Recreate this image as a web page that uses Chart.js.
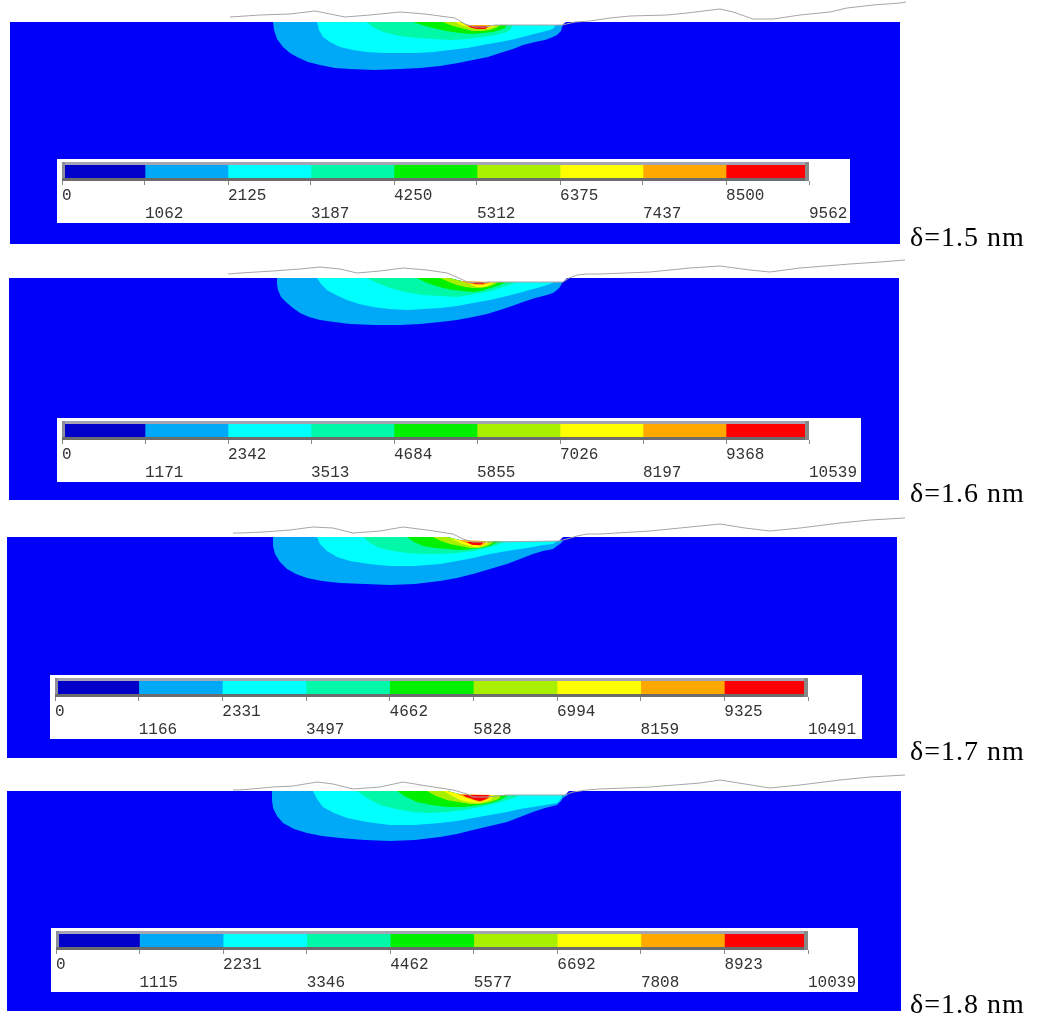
<!DOCTYPE html>
<html>
<head>
<meta charset="utf-8">
<script src="https://cdn.jsdelivr.net/npm/chart.js@4.4.1/dist/chart.umd.min.js"></script>
<style>
  html, body { margin: 0; padding: 0; background: #fff; width: 1040px; height: 1032px; overflow: hidden; }
  #stage { position: relative; width: 1040px; height: 1032px; background: #fff; }
  #stage canvas { position: absolute; }
  .legend-box { position: absolute; background: #fff; }
  .caption { position: absolute; font-family: 'Liberation Serif', 'Times New Roman', serif; font-size: 28px;
             line-height: 1; color: #000; white-space: nowrap; letter-spacing: 1px; }
</style>
</head>
<body>
<div id="stage"></div>
<script>
// ---- stress levels shown on each colour bar (contour band boundaries) ----
const levels15 = [0, 1062, 2125, 3187, 4250, 5312, 6375, 7437, 8500, 9562];
const levels16 = [0, 1171, 2342, 3513, 4684, 5855, 7026, 8197, 9368, 10539];
const levels17 = [0, 1166, 2331, 3497, 4662, 5828, 6994, 8159, 9325, 10491];
const levels18 = [0, 1115, 2231, 3346, 4462, 5577, 6692, 7808, 8923, 10039];

const captions = ['δ=1.5 nm', 'δ=1.6 nm', 'δ=1.7 nm', 'δ=1.8 nm'];

// ---- section outline of the substrate, [x, depth] ----
const domain15 = [[0,0],[450,0],[456,3],[552,3],[556,0],[890,0],[890,222],[0,222]];
const domain16 = [[0,0],[440,0],[456,4],[554,4],[558,0],[890,0],[890,222],[0,222]];
const domain17 = [[0,0],[440,0],[456,4],[552,4],[556,0],[890,0],[890,221],[0,221]];
const domain18 = [[0,0],[440,0],[456,4],[558,4],[562,0],[894,0],[894,220],[0,220]];

// ---- rough surface profile traced above the section, [x, depth] ----
const surface15 = [[220,-5],[250,-7],[280,-8],[305,-11],[320,-8],[335,-5],[360,-7],[390,-10],[415,-8],[445,-4],[455,2],[465,5],[475,5],[485,3],[552,3],[565,0],[580,-1],[600,-4],[620,-6],[657,-7],[677,-9],[710,-13],[723,-10],[743,-3],[763,-3],[790,-7],[820,-10],[837,-14],[863,-17],[890,-19],[896,-20]];
const surface16 = [[219,-4],[231,-5],[264,-7],[291,-9],[311,-11],[331,-9],[348,-5],[371,-7],[394,-10],[418,-8],[438,-5],[450,0],[458,4],[470,5],[480,4],[554,4],[560,0],[568,-3],[578,-4],[591,-4],[641,-6],[681,-10],[711,-12],[741,-8],[761,-6],[791,-10],[841,-14],[871,-16],[896,-18]];
const surface17 = [[226,-4],[233,-4],[256,-5],[283,-7],[306,-10],[326,-9],[346,-4],[373,-6],[396,-10],[420,-7],[446,-3],[456,2],[466,5],[480,5],[552,4],[560,2],[570,-1],[580,-3],[593,-3],[643,-6],[683,-10],[713,-13],[738,-9],[763,-6],[793,-9],[833,-14],[863,-17],[898,-19]];
const surface18 = [[226,-1],[233,-1],[266,-4],[286,-5],[310,-9],[326,-7],[346,-2],[373,-4],[396,-9],[420,-5],[446,-1],[460,3],[466,6],[480,6],[500,4],[558,4],[566,1],[580,-1],[593,-2],[643,-4],[693,-8],[713,-11],[738,-7],[763,-3],[793,-6],[833,-11],[863,-14],[898,-16]];

// ---- contour bands, lowest level first; each is a closed outline [x, depth] ----
const bands15 = [
  [[263,0],[264,8],[267,17],[273,25],[280,31],[287,35],[298,40],[310,43],[325,46],[340,47],[365,48],[390,47],[410,46],[430,44],[448,41],[463,38],[478,35],[490,31],[503,27],[513,23],[525,20],[535,18],[543,15],[547,13],[551,9],[552,5],[553,3],[456,3],[450,0]],
  [[307,0],[309,8],[313,15],[320,20],[330,25],[343,28],[357,30],[373,31],[390,31],[407,31],[423,30],[440,28],[457,26],[473,23],[490,20],[505,17],[520,13],[532,10],[540,8],[544,6],[545,3],[456,3],[450,0]],
  [[357,0],[363,5],[373,10],[390,14],[407,16],[423,17],[440,18],[457,17],[473,15],[486,13],[497,10],[501,7],[503,3],[456,3],[450,0]],
  [[403,0],[412,3],[423,6],[436,9],[450,11],[462,12],[473,11],[483,10],[490,8],[495,6],[497,3],[456,3],[450,0]],
  [[433,0],[440,3],[447,5],[455,7],[463,9],[472,9],[480,8],[486,6],[490,3],[456,3],[450,0]],
  [[445,0],[451,3],[457,5],[463,6],[470,7],[477,7],[483,5],[487,3],[456,3],[450,0]],
  [[455,3],[459,5],[463,6],[468,7],[473,7],[477,6],[480,5],[482,3]],
  [[458,4],[462,6],[467,7],[471,7],[475,7],[477,6],[478,4]]
];
const bands16 = [
  [[268,0],[268,6],[269,12],[272,19],[278,25],[284,30],[291,35],[300,39],[311,42],[325,44],[341,46],[365,47],[391,47],[411,46],[431,44],[448,42],[464,39],[478,36],[491,32],[503,28],[514,24],[526,20],[538,17],[544,15],[548,12],[551,9],[553,5],[554,4],[456,4],[440,0]],
  [[308,0],[312,6],[318,12],[327,17],[338,22],[350,26],[364,29],[380,31],[398,32],[415,31],[431,30],[448,28],[464,25],[481,22],[498,18],[510,15],[520,12],[528,10],[535,8],[541,6],[545,4],[456,4],[440,0]],
  [[358,0],[368,5],[381,10],[396,14],[414,17],[431,18],[448,19],[460,17],[471,15],[482,13],[491,10],[500,7],[508,4],[456,4],[440,0]],
  [[408,0],[416,4],[424,7],[434,10],[444,12],[454,13],[464,14],[472,13],[478,11],[485,9],[491,7],[495,5],[498,4],[456,4],[440,0]],
  [[431,0],[440,4],[448,7],[456,9],[464,10],[471,10],[478,9],[484,7],[488,5],[488,4],[456,4],[440,0]],
  [[446,1.5],[452,3],[458,5],[463,7],[468,9],[473,9],[478,8],[482,6],[484,5],[484,4],[456,4]],
  [[452,3],[457,5],[463,6],[469,7],[474,7],[478,6],[481,5],[482,4]],
  [[460,4],[463,5],[466,6],[470,6],[474,6],[476,5],[478,4]]
];
const bands17 = [
  [[266,0],[266,9],[268,17],[273,25],[280,32],[289,37],[300,41],[315,44],[333,46],[358,47],[383,48],[408,47],[433,44],[450,41],[466,37],[483,32],[500,27],[513,22],[526,17],[536,14],[546,12],[550,9],[553,7],[556,4],[456,4],[440,0]],
  [[310,0],[313,7],[320,14],[330,20],[343,24],[362,27],[383,29],[408,29],[433,27],[450,24],[466,21],[483,17],[500,14],[513,12],[526,10],[536,8],[546,7],[549,5],[550,4],[456,4],[440,0]],
  [[356,0],[363,6],[373,11],[386,14],[400,16],[416,17],[433,17],[450,16],[466,14],[480,11],[493,7],[497,5],[500,4],[456,4],[440,0]],
  [[400,0],[407,5],[416,9],[428,11],[440,12],[453,13],[466,12],[475,11],[483,9],[489,6],[493,4],[456,4],[440,0]],
  [[426,0],[434,4],[443,7],[453,9],[463,11],[472,11],[480,9],[484,7],[486,5],[486,4],[456,4],[440,0]],
  [[443,1],[449,4],[456,7],[463,9],[470,10],[476,9],[480,7],[481,4],[456,4]],
  [[452,3],[457,5],[463,7],[468,8],[473,9],[476,8],[478,7],[479,4]],
  [[460,5],[463,7],[466,8],[470,8],[473,8],[475,7],[476,5]]
];
const bands18 = [
  [[265,0],[265,9],[266,17],[270,25],[276,32],[287,38],[300,42],[315,45],[333,47],[358,49],[383,50],[408,49],[433,46],[450,43],[466,39],[483,35],[500,31],[513,26],[526,21],[538,17],[550,14],[554,10],[556,7],[559,5],[561,4],[456,4],[440,0]],
  [[306,0],[310,8],[316,16],[327,22],[340,27],[360,31],[383,34],[408,34],[433,32],[450,30],[466,27],[483,24],[500,21],[513,18],[526,16],[538,14],[550,12],[553,9],[555,6],[555,4],[456,4],[440,0]],
  [[350,0],[360,7],[373,14],[389,18],[406,21],[423,22],[440,21],[457,19],[473,16],[487,13],[500,9],[506,7],[510,6],[510,4],[456,4],[440,0]],
  [[390,0],[399,6],[410,11],[424,14],[440,16],[457,16],[473,14],[484,12],[493,9],[497,7],[500,5],[500,4],[456,4],[440,0]],
  [[420,0],[429,5],[440,9],[451,11],[463,13],[473,13],[483,11],[489,9],[493,7],[493,4],[456,4],[440,0]],
  [[437,0],[445,5],[453,9],[461,11],[470,12],[477,11],[483,9],[485,7],[486,5],[486,4],[456,4],[440,0]],
  [[450,3],[455,5],[460,7],[466,9],[473,11],[479,9],[483,7],[484,4]],
  [[456,4],[459,6],[463,7],[468,9],[473,10],[477,9],[481,7],[482,4]]
];

// ---- styling ----
const domainColor = '#0000fa';
const bandColors = ['#00a8f8', '#00ffff', '#00f8a8', '#00f000', '#a8f000', '#ffff00', '#ffa800', '#ff0000'];
const barColors = ['#0000c8'].concat(bandColors);
const surfaceColor = '#a6a6a6';

// ---- page placement of each panel (section origin, legend box, colour bar) ----
const panelLayout = [
  { left: 10, top: 22,  box: [57, 159, 850, 223], bar: [62, 162, 809, 181], captionTop: 223 },
  { left: 9,  top: 278, box: [57, 418, 861, 482], bar: [62, 421, 809, 440], captionTop: 479 },
  { left: 7,  top: 537, box: [50, 675, 862, 739], bar: [55, 678, 808, 697], captionTop: 737 },
  { left: 7,  top: 791, box: [51, 928, 858, 992], bar: [56, 931, 808, 950], captionTop: 990 }
];

const panels = [
  { levels: levels15, domain: domain15, surface: surface15, bands: bands15 },
  { levels: levels16, domain: domain16, surface: surface16, bands: bands16 },
  { levels: levels17, domain: domain17, surface: surface17, bands: bands17 },
  { levels: levels18, domain: domain18, surface: surface18, bands: bands18 }
];

const stage = document.getElementById('stage');
const toPoints = arr => arr.map(([x, y]) => ({ x, y }));

// contour section: filled outlines on linear x / depth scales
function drawSection(panel, lay) {
  const cv = document.createElement('canvas');
  cv.width = 910; cv.height = 244;
  cv.style.left = lay.left + 'px';
  cv.style.top = (lay.top - 22) + 'px';
  stage.appendChild(cv);

  const datasets = [{
    data: toPoints(panel.surface), borderColor: surfaceColor, borderWidth: 1, fill: false
  }];
  for (let k = panel.bands.length - 1; k >= 0; k--) {
    datasets.push({
      data: toPoints(panel.bands[k]), backgroundColor: bandColors[k],
      borderColor: 'rgba(0,0,0,0)', borderWidth: 0, fill: 'shape'
    });
  }
  datasets.push({
    data: toPoints(panel.domain), backgroundColor: domainColor,
    borderColor: 'rgba(0,0,0,0)', borderWidth: 0, fill: 'shape'
  });

  new Chart(cv, {
    type: 'line',
    data: { datasets },
    options: {
      responsive: false, animation: false, events: [],
      layout: { padding: 0 },
      elements: { point: { radius: 0, hoverRadius: 0 }, line: { tension: 0 } },
      plugins: { legend: { display: false }, tooltip: { enabled: false } },
      scales: {
        x: { type: 'linear', min: 0, max: 910, display: false },
        y: { type: 'linear', min: -22, max: 222, reverse: true, display: false }
      }
    }
  });
}

// bevelled frame around the colour bar
const barFrame = {
  id: 'barFrame',
  afterDatasetsDraw(chart) {
    const { ctx, chartArea: a } = chart;
    const w = a.right - a.left, h = a.bottom - a.top;
    ctx.save();
    ctx.fillStyle = '#a4a4b4'; ctx.fillRect(a.left, a.top, w, 3);
    ctx.fillStyle = '#8c8c9c'; ctx.fillRect(a.left, a.top, 3, h);
    ctx.fillStyle = '#6c6c6c'; ctx.fillRect(a.left, a.bottom - 3, w, 3);
    ctx.fillStyle = '#888888'; ctx.fillRect(a.right - 4, a.top, 4, h);
    ctx.restore();
  }
};

// colour bar: floating horizontal bars between consecutive levels
function drawColorbar(panel, lay) {
  const [bx0, by0, bx1, by1] = lay.box;
  const box = document.createElement('div');
  box.className = 'legend-box';
  box.style.left = bx0 + 'px'; box.style.top = by0 + 'px';
  box.style.width = (bx1 - bx0) + 'px'; box.style.height = (by1 - by0) + 'px';
  stage.appendChild(box);

  const [x0, y0, x1, y1] = lay.bar;
  const axisH = 46, spare = 60;
  const cv = document.createElement('canvas');
  cv.width = (x1 - x0) + spare; cv.height = (y1 - y0) + axisH;
  cv.style.left = x0 + 'px'; cv.style.top = y0 + 'px';
  stage.appendChild(cv);

  const lv = panel.levels;
  const datasets = barColors.map((c, k) => ({
    data: [[lv[k], lv[k + 1]]], backgroundColor: c, borderWidth: 0,
    grouped: false, barPercentage: 1, categoryPercentage: 1
  }));

  new Chart(cv, {
    type: 'bar',
    data: { labels: [''], datasets },
    plugins: [barFrame],
    options: {
      indexAxis: 'y', responsive: false, animation: false, events: [],
      layout: { padding: { left: 0, top: 0, right: spare, bottom: 0 } },
      plugins: { legend: { display: false }, tooltip: { enabled: false } },
      scales: {
        y: { display: false },
        x: {
          type: 'linear', min: lv[0], max: lv[lv.length - 1],
          afterBuildTicks: s => { s.ticks = lv.map(v => ({ value: v })); },
          afterFit: s => { s.paddingLeft = 0; s.paddingRight = 0; s.height = axisH; },
          border: { display: false },
          grid: { display: true, drawOnChartArea: false, drawTicks: true, tickLength: 4, color: '#8a8a8a', lineWidth: 1 },
          ticks: {
            autoSkip: false, maxRotation: 0, minRotation: 0, align: 'start', padding: 2,
            color: '#333333',
            font: { family: "'Liberation Mono', 'Courier New', monospace", size: 16, lineHeight: 1.1 },
            callback: (value, index) => index % 2 ? ['', String(lv[index])] : String(lv[index])
          }
        }
      }
    }
  });
}

panels.forEach((p, i) => {
  const lay = panelLayout[i];
  drawSection(p, lay);
  drawColorbar(p, lay);
  const cap = document.createElement('div');
  cap.className = 'caption';
  cap.textContent = captions[i];
  cap.style.left = '910px';
  cap.style.top = lay.captionTop + 'px';
  stage.appendChild(cap);
});
</script>
</body>
</html>
